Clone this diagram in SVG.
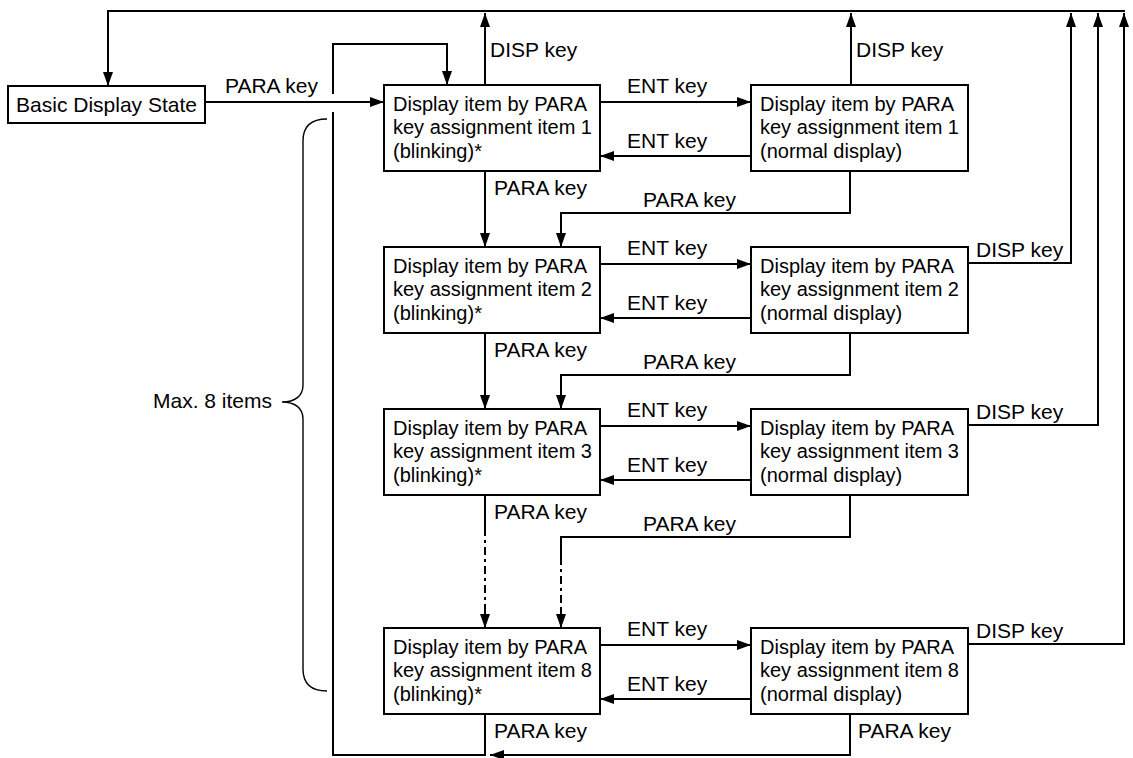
<svg xmlns="http://www.w3.org/2000/svg" width="1133" height="758" viewBox="0 0 1133 758">
<style>
.box{fill:#fff;stroke:#000;stroke-width:2}
.bt{font-family:"Liberation Sans",Arial,sans-serif;font-size:20px;fill:#000}
.lb{font-family:"Liberation Sans",Arial,sans-serif;font-size:21px;fill:#000}
.ln{fill:none;stroke:#000;stroke-width:2}
.dd{fill:none;stroke:#000;stroke-width:2;stroke-dasharray:8 4 3 4}
.br{fill:none;stroke:#000;stroke-width:1.4}
</style>
<defs>
<marker id="ah" markerUnits="userSpaceOnUse" markerWidth="14" markerHeight="10" refX="14" refY="5" orient="auto">
<path d="M0,0 L14,5 L0,10 z" fill="#000"/>
</marker>
</defs>
<rect width="1133" height="758" fill="#fff"/>
<g id="connectors">
<path class="ln" d="M1125,11 H108 V86" marker-end="url(#ah)"/>
<path class="ln" d="M205,102 H384" marker-end="url(#ah)"/>
<path class="ln" d="M333,94 V44 H447 V85" marker-end="url(#ah)"/>
<path class="ln" d="M485,714 V755 H333 V112"/>
<path class="ln" d="M850,714 V755 H490" marker-end="url(#ah)"/>
<path class="ln" d="M485,85 V13" marker-end="url(#ah)"/>
<path class="ln" d="M851,85 V13" marker-end="url(#ah)"/>
<path class="ln" d="M968,263 H1071 V13" marker-end="url(#ah)"/>
<path class="ln" d="M968,425 H1098 V13" marker-end="url(#ah)"/>
<path class="ln" d="M968,644 H1124 V13" marker-end="url(#ah)"/>
<path class="ln" d="M600,102 H751" marker-end="url(#ah)"/>
<path class="ln" d="M751,156 H600" marker-end="url(#ah)"/>
<path class="ln" d="M600,264 H751" marker-end="url(#ah)"/>
<path class="ln" d="M751,318 H600" marker-end="url(#ah)"/>
<path class="ln" d="M600,426 H751" marker-end="url(#ah)"/>
<path class="ln" d="M751,480 H600" marker-end="url(#ah)"/>
<path class="ln" d="M600,645 H751" marker-end="url(#ah)"/>
<path class="ln" d="M751,699 H600" marker-end="url(#ah)"/>
<path class="ln" d="M485,171 V247" marker-end="url(#ah)"/>
<path class="ln" d="M850,171 V213 H561 V247" marker-end="url(#ah)"/>
<path class="ln" d="M485,333 V409" marker-end="url(#ah)"/>
<path class="ln" d="M850,333 V375 H561 V409" marker-end="url(#ah)"/>
<path class="ln" d="M485,495 V528"/>
<path class="dd" d="M485,528 V612"/>
<path class="ln" d="M485,610 V628" marker-end="url(#ah)"/>
<path class="ln" d="M850,495 V537 H561 V557"/>
<path class="dd" d="M561,557 V612"/>
<path class="ln" d="M561,610 V628" marker-end="url(#ah)"/>
<path class="br" d="M327,119 C312,119 303,126 303,141 L303,385 C303,396 295,402 282,402 C295,402 303,408 303,419 L303,669 C303,684 312,691 327,691"/>
</g>
<g id="labels">
<text class="lb" x="225" y="93">PARA key</text>
<text class="lb" x="490" y="57">DISP key</text>
<text class="lb" x="856" y="57">DISP key</text>
<text class="lb" x="627" y="93">ENT key</text>
<text class="lb" x="627" y="148">ENT key</text>
<text class="lb" x="627" y="255">ENT key</text>
<text class="lb" x="627" y="310">ENT key</text>
<text class="lb" x="627" y="417">ENT key</text>
<text class="lb" x="627" y="472">ENT key</text>
<text class="lb" x="627" y="636">ENT key</text>
<text class="lb" x="627" y="691">ENT key</text>
<text class="lb" x="494" y="195">PARA key</text>
<text class="lb" x="643" y="207">PARA key</text>
<text class="lb" x="494" y="357">PARA key</text>
<text class="lb" x="643" y="369">PARA key</text>
<text class="lb" x="494" y="519">PARA key</text>
<text class="lb" x="643" y="531">PARA key</text>
<text class="lb" x="494" y="738">PARA key</text>
<text class="lb" x="858" y="738">PARA key</text>
<text class="lb" x="976" y="257">DISP key</text>
<text class="lb" x="976" y="419">DISP key</text>
<text class="lb" x="976" y="638">DISP key</text>
<text class="lb" x="153" y="408">Max. 8 items</text>
</g>
<g id="basic">
<rect class="box" x="8" y="86" width="197" height="37"/>
<text class="lb" x="106.5" y="112" text-anchor="middle">Basic Display State</text>
</g>
<g id="b1"><rect class="box" x="384" y="85" width="216" height="86"/><text class="bt" x="393" y="111">Display item by PARA</text><text class="bt" x="393" y="134">key assignment item 1</text><text class="bt" x="393" y="158">(blinking)*</text></g>
<g id="n1"><rect class="box" x="751" y="85" width="217" height="86"/><text class="bt" x="760" y="111">Display item by PARA</text><text class="bt" x="760" y="134">key assignment item 1</text><text class="bt" x="760" y="158">(normal display)</text></g>
<g id="b2"><rect class="box" x="384" y="247" width="216" height="86"/><text class="bt" x="393" y="273">Display item by PARA</text><text class="bt" x="393" y="296">key assignment item 2</text><text class="bt" x="393" y="320">(blinking)*</text></g>
<g id="n2"><rect class="box" x="751" y="247" width="217" height="86"/><text class="bt" x="760" y="273">Display item by PARA</text><text class="bt" x="760" y="296">key assignment item 2</text><text class="bt" x="760" y="320">(normal display)</text></g>
<g id="b3"><rect class="box" x="384" y="409" width="216" height="86"/><text class="bt" x="393" y="435">Display item by PARA</text><text class="bt" x="393" y="458">key assignment item 3</text><text class="bt" x="393" y="482">(blinking)*</text></g>
<g id="n3"><rect class="box" x="751" y="409" width="217" height="86"/><text class="bt" x="760" y="435">Display item by PARA</text><text class="bt" x="760" y="458">key assignment item 3</text><text class="bt" x="760" y="482">(normal display)</text></g>
<g id="b8"><rect class="box" x="384" y="628" width="216" height="86"/><text class="bt" x="393" y="654">Display item by PARA</text><text class="bt" x="393" y="677">key assignment item 8</text><text class="bt" x="393" y="701">(blinking)*</text></g>
<g id="n8"><rect class="box" x="751" y="628" width="217" height="86"/><text class="bt" x="760" y="654">Display item by PARA</text><text class="bt" x="760" y="677">key assignment item 8</text><text class="bt" x="760" y="701">(normal display)</text></g>
</svg>
